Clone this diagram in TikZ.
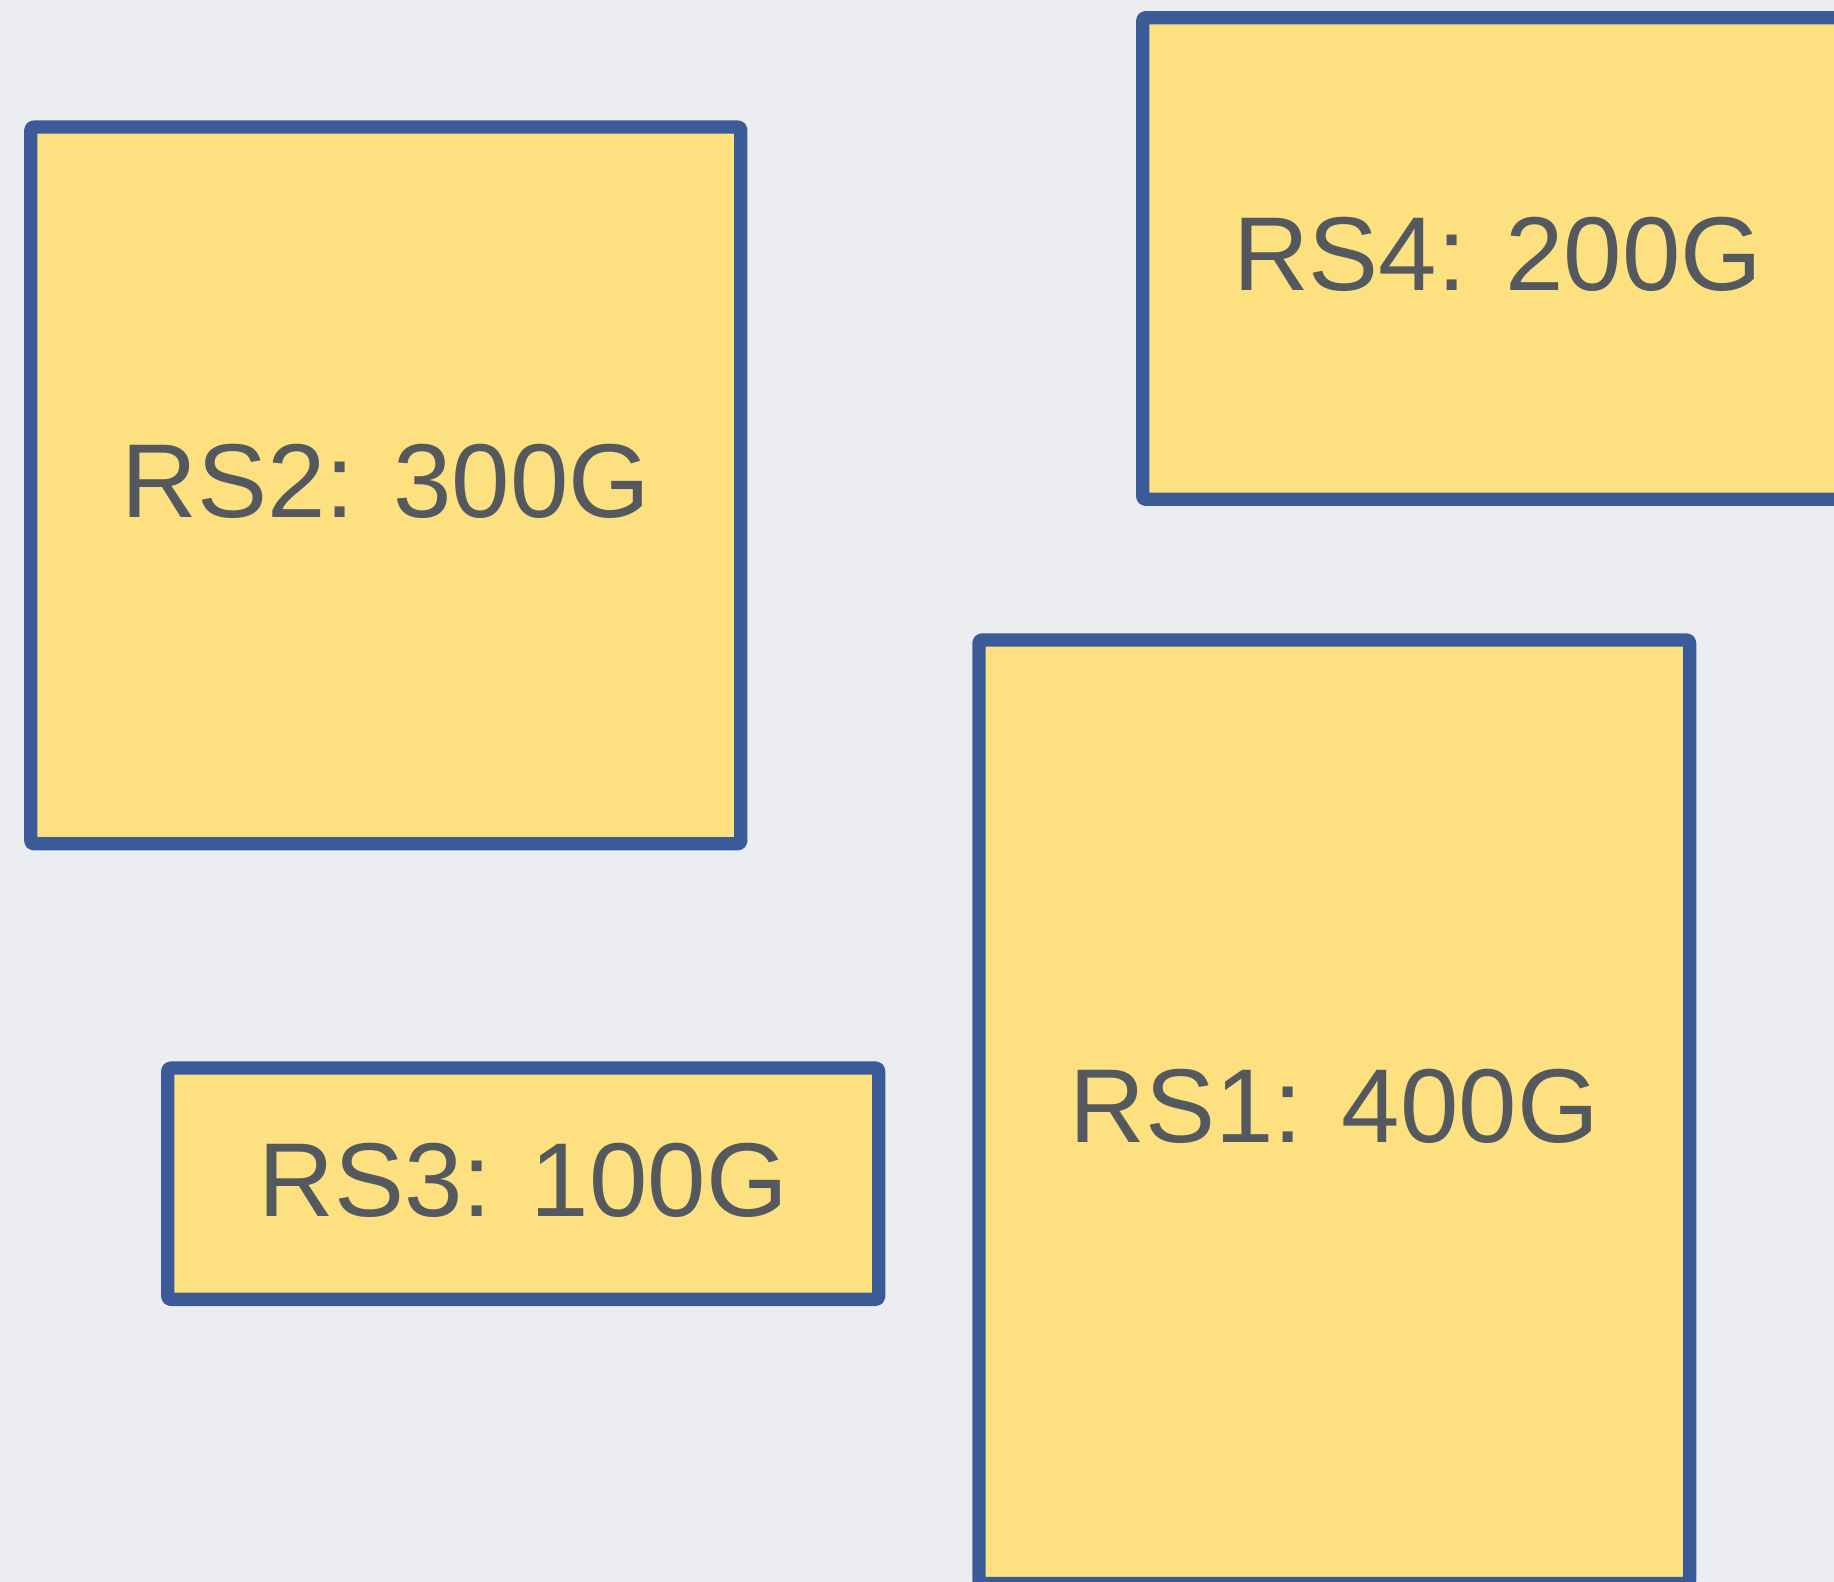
\documentclass[tikz,border=0pt]{standalone}
\usepackage{fontspec}
\setmainfont{Liberation Sans}
\definecolor{bgc}{RGB}{236,237,241}
\definecolor{fillc}{RGB}{253,224,128}
\definecolor{edgec}{RGB}{58,90,152}
\definecolor{textc}{RGB}{84,89,95}
\tikzset{
  rsbox/.style={draw=edgec, fill=fillc, line width=13.3pt, rounded corners=3pt, line join=round, inner sep=0pt, rectangle},
  rslabel/.style={text=textc, anchor=base, inner sep=0pt, font=\fontsize{105}{126}\selectfont}
}
\begin{document}
\begin{tikzpicture}[x=1pt,y=-1pt]
\useasboundingbox (0,0) rectangle (1834,1582);
\fill[bgc] (0,0) rectangle (1834,1582);
\clip (0,0) rectangle (1834,1582);
\node[rsbox, minimum width=710pt, minimum height=716.7pt] (rs2box) at (385.8,485.4) {};
\node[rsbox, minimum width=710pt, minimum height=481.6pt] (rs4box) at (1497.7,258.5) {};
\node[rsbox, minimum width=710.7pt, minimum height=943.6pt] (rs1box) at (1334.3,1111.8) {};
\node[rsbox, minimum width=710.9pt, minimum height=231.3pt] (rs3box) at (523.2,1183.7) {};
\node[rslabel] (rs2) at (385.8,517) {RS2: 300G};
\node[rslabel] (rs4) at (1497.7,290) {RS4: 200G};
\node[rslabel] (rs1) at (1334.3,1142.7) {RS1: 400G};
\node[rslabel] (rs3) at (523.2,1216.4) {RS3: 100G};
\end{tikzpicture}
\end{document}
